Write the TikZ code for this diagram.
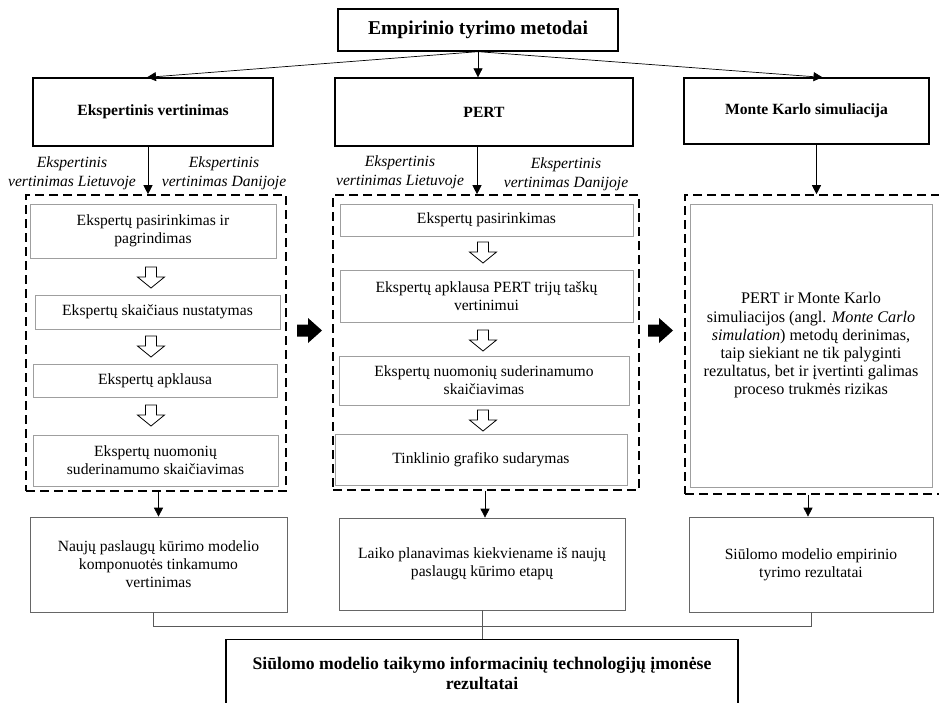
\documentclass[tikz,border=0pt]{standalone}
\usepackage{fontspec}
\setmainfont{Liberation Serif}
\usepackage{tikz}
\usetikzlibrary{arrows.meta}

\tikzset{
	topbox/.style={draw, line width=1.3pt, font=\fontsize{15.6}{18}\selectfont\bfseries, align=center, inner sep=0pt},
	groupbox/.style={draw, line width=1.6pt, dash pattern=on 9pt off 5pt, inner sep=0pt},
	stepbox/.style={draw=gray!75, line width=0.7pt, font=\fontsize{15.6}{18}\selectfont, align=center, inner sep=0pt},
	resultbox/.style={draw=gray!80!black, line width=0.7pt, font=\fontsize{15.6}{18}\selectfont, align=center, inner sep=0pt},
	sidelabel/.style={font=\fontsize{15.6}{19}\selectfont\itshape, align=center, inner sep=0pt},
	link/.style={line width=0.7pt, -{Triangle[length=9pt, width=9pt]}},
	joint/.style={draw=gray!70!black, line width=0.6pt}
}

\begin{document}
\begin{tikzpicture}[
	x=1pt, y=-1pt,
	line join=miter
	]
	
	\useasboundingbox (0,0) rectangle (939,702);
	\clip (0,0) rectangle (939,702);
	
	% methods
	\node[topbox, minimum width=280, minimum height=42, font=\fontsize{19.6}{22}\selectfont\bfseries] (title) at (478,30) {Empirinio tyrimo metodai};
	\node[topbox, minimum width=240, minimum height=68] (ev) at (153,112) {Ekspertinis vertinimas};
	\node[topbox, minimum width=298, minimum height=68] (pert) at (484,112) {PERT};
	\node[topbox, minimum width=245, minimum height=66] (mk) at (806.5,111) {Monte Karlo simuliacija};
	
	\draw[link] (title.south) -- ([xshift=-6pt]ev.north);
	\draw[link] (title.south) -- (title.south |- pert.north);
	\draw[link] (title.south) -- ([xshift=16pt]mk.north);
	
	% dashed groups
	\node[groupbox, minimum width=260, minimum height=296] (grp1) at (156,343) {};
	\node[groupbox, minimum width=306, minimum height=295] (grp2) at (486,342.5) {};
	\node[groupbox, minimum width=265, minimum height=299] (grp3) at (817.5,344.5) {};
	
	\draw[link] ([xshift=-5pt]ev.south) -- ([xshift=-5pt]ev.south |- grp1.north);
	\draw[link] ([xshift=-7pt]pert.south) -- ([xshift=-7pt]pert.south |- grp2.north);
	\draw[link] ([xshift=10pt]mk.south) -- ([xshift=10pt]mk.south |- grp3.north);
	
	\node[sidelabel] (lt1) at (72,173.5) {Ekspertinis\\vertinimas Lietuvoje};
	\node[sidelabel] (dk1) at (224,173.5) {Ekspertinis\\vertinimas Danijoje};
	\node[sidelabel] (lt2) at (400,172) {Ekspertinis\\vertinimas Lietuvoje};
	\node[sidelabel] (dk2) at (566,174) {Ekspertinis\\vertinimas Danijoje};
	
	% expert evaluation steps
	\node[stepbox, minimum width=246, minimum height=54] (s11) at (153,231) {Ekspertų pasirinkimas ir\\pagrindimas};
	\node[stepbox, minimum width=245, minimum height=34] (s12) at (157.5,312) {Ekspertų skaičiaus nustatymas};
	\node[stepbox, minimum width=244, minimum height=33] (s13) at (155,380.5) {Ekspertų apklausa};
	\node[stepbox, minimum width=245, minimum height=51] (s14) at (155.5,460.5) {Ekspertų nuomonių\\suderinamumo skaičiavimas};
	
	% PERT steps
	\node[stepbox, minimum width=293, minimum height=32] (s21) at (486.5,220) {Ekspertų pasirinkimas};
	\node[stepbox, minimum width=293, minimum height=52] (s22) at (486.5,296) {Ekspertų apklausa PERT trijų taškų\\vertinimui};
	\node[stepbox, minimum width=290, minimum height=49] (s23) at (484,380.5) {Ekspertų nuomonių suderinamumo\\skaičiavimas};
	\node[stepbox, minimum width=292, minimum height=51] (s24) at (481,459.5) {Tinklinio grafiko sudarymas};
	
	% Monte Carlo
	\node[stepbox, minimum width=242, minimum height=283, font=\fontsize{16.2}{18.2}\selectfont] (s31) at (811,345.5)
	{PERT ir Monte Karlo\\simuliacijos (angl. \textit{Monte Carlo}\\\textit{simulation}) metodų derinimas,\\taip siekiant ne tik palyginti\\rezultatus, bet ir įvertinti galimas\\proceso trukmės rizikas};
	
	% hollow arrows
	\foreach \x/\y in {151/267, 151/336, 151/405, 483/242, 483/330, 483/410}
	\draw[line width=0.8pt] (\x,\y) ++(-5.5,0) -- ++(0,10) -- ++(-8,0) -- ++(13.5,11)
	-- ++(13.5,-11) -- ++(-8,0) -- ++(0,-10) -- cycle;
	
	% block arrows
	\foreach \x in {297, 648}
	\fill (\x,324.5) -- ++(11,0) -- ++(0,-6.5) -- ++(14,12.5) -- ++(-14,12.5)
	-- ++(0,-6.5) -- ++(-11,0) -- cycle;
	
	% results
	\node[resultbox, minimum width=257, minimum height=95] (r1) at (158.5,564.5) {Naujų paslaugų kūrimo modelio\\komponuotės tinkamumo\\vertinimas};
	\node[resultbox, minimum width=286, minimum height=92] (r2) at (482,564) {Laiko planavimas kiekviename iš naujų\\paslaugų kūrimo etapų};
	\node[resultbox, minimum width=244, minimum height=95] (r3) at (811,564.5) {Siūlomo modelio empirinio\\tyrimo rezultatai};
	
	\draw[link] (r1.north |- grp1.south) -- (r1.north);
	\draw[link] ([xshift=3pt]r2.north |- grp2.south) -- ([xshift=3pt]r2.north);
	\draw[link] ([xshift=-3pt]r3.north |- grp3.south) -- ([xshift=-3pt]r3.north);
	
	\node[topbox, minimum width=512, minimum height=100, anchor=north] (final) at (482,639) {};
	\node[font=\fontsize{17.7}{20}\selectfont\bfseries, align=center] (finaltext) at (482,673) {Siūlomo modelio taikymo informacinių technologijų įmonėse\\rezultatai};
	
	\draw[joint] ([xshift=-5pt]r1.south) -- ++(0,14) -| (r3.south);
	\draw[joint] (r2.south) -- (final.north);
	
\end{tikzpicture}
\end{document}
